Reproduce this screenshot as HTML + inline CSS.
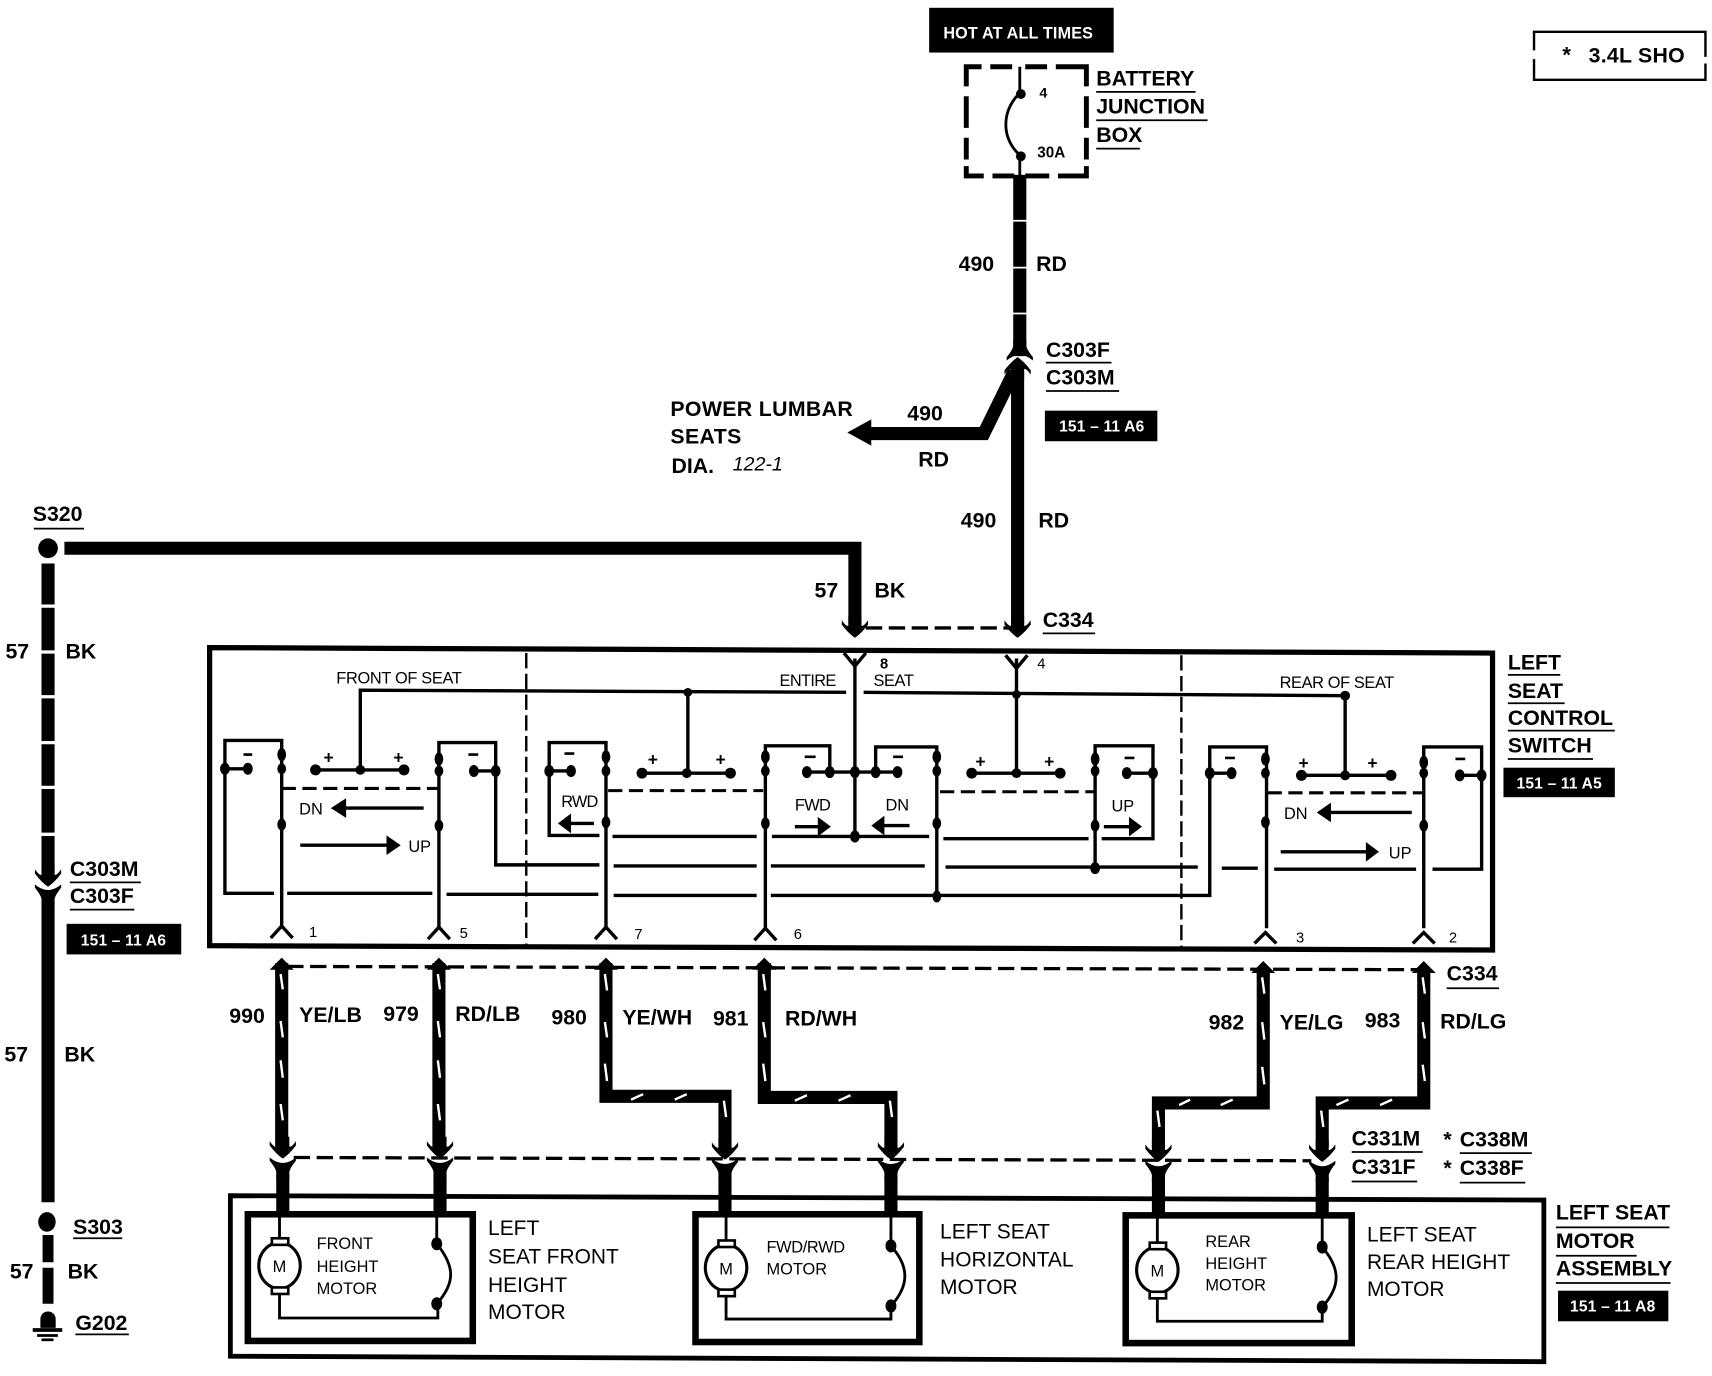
<!DOCTYPE html>
<html><head><meta charset="utf-8"><style>
html,body{margin:0;padding:0;background:#fff}
svg{display:block}
text{font-family:"Liberation Sans",sans-serif;fill:#000}
.b{font-weight:bold;font-size:19.5px}
.r{font-size:19.2px}
.s{font-size:15px}
.w{fill:#fff;font-size:14.2px;font-weight:bold;text-anchor:middle}
.u{stroke:#000;stroke-width:1.6;fill:none}
.t{stroke:#000;stroke-width:2.6;fill:none}
.d{stroke:#000;stroke-width:3;fill:none;stroke-dasharray:15 6}
.wire{stroke:#000;stroke-width:12;fill:none;stroke-linejoin:miter}
.st{stroke:#fff;stroke-width:2.2;fill:none}
.a{stroke:#000;stroke-width:3.1;fill:none}
</style></head><body>
<svg xmlns="http://www.w3.org/2000/svg" width="1712" height="1376" viewBox="-1 0 1568 1260">
<defs>
<path id="m" d="M-12,-10 Q-8,-4 -6,-5 V-14 H6 V-5 Q8,-4 12,-10 L12,-6 Q6,2 0,6 Q-6,2 -12,-6 Z"/>
<path id="f" d="M-12,-1 Q0,9 12,-1 L12,2 Q7,8 6,12 V18 H-6 V12 Q-7,8 -12,2 Z"/>
<path id="ua" d="M0,-8 L11,3 H5.8 V10 H-5.8 V3 H-11 Z"/>
</defs>
<rect x="-1" width="1568" height="1260" fill="#fff"/>

<!-- top -->
<rect x="850" y="7" width="169" height="41"/>
<text x="863" y="35" style="fill:#fff;font-size:14.8px;font-weight:bold" textLength="137">HOT AT ALL TIMES</text>
<path d="M884,79V61H898M906,61H926M938,61H958M966,61H994V79M884,88V117M994,88V117M884,126V146M994,126V146M884,152V161H900M908,161H928M938,161H960M968,161H994V152" fill="none" stroke="#000" stroke-width="4.5"/>
<path class="t" d="M933,61V85M933,85C916,102 916,126 933,142V165"/>
<circle cx="934" cy="86" r="4.5"/><circle cx="934" cy="143" r="4.5"/>
<text x="951" y="89" style="font-size:13px;font-weight:bold">4</text>
<text x="949" y="144" style="font-size:14px;font-weight:bold">30A</text>
<text class="b" x="1003" y="78">BATTERY</text><path class="u" d="M1003,84H1094"/>
<text class="b" x="1003" y="104">JUNCTION</text><path class="u" d="M1003,110H1105"/>
<text class="b" x="1003" y="130">BOX</text><path class="u" d="M1003,136H1043"/>

<path class="wire" d="M933,160V326"/>
<path d="M925,202H941M925,245H941M925,287H941" stroke="#fff" stroke-width="1.6"/>
<use href="#f" transform="translate(933,329) rotate(180)"/>
<text class="b" x="877" y="248">490</text><text class="b" x="948" y="248">RD</text>
<use href="#m" transform="translate(931,333) rotate(180)"/>
<text class="b" x="957" y="327">C303F</text><path class="u" d="M957,332H1017"/>
<text class="b" x="957" y="352">C303M</text><path class="u" d="M957,358H1024"/>
<rect x="956" y="376" width="103" height="28"/>
<text class="w" x="1008" y="395" textLength="78">151 – 11 A6</text>
<path class="wire" d="M931,340V572"/>
<path class="wire" d="M928,340L900,397H790"/>
<path d="M775,396L797,384V408Z"/>
<text class="b" x="613" y="381" textLength="167">POWER LUMBAR</text>
<text class="b" x="613" y="406" textLength="65">SEATS</text>
<text class="b" x="614" y="433">DIA.</text>
<text x="670" y="431" style="font-size:18px;font-style:italic">122-1</text>
<text class="b" x="830" y="385">490</text><text class="b" x="840" y="427">RD</text>
<text class="b" x="879" y="483">490</text><text class="b" x="950" y="483">RD</text>

<!-- top right -->
<path d="M1404,46V29H1561V52M1561,58V73H1404V54" fill="none" stroke="#000" stroke-width="2.2"/>
<text x="1430" y="57" style="font-size:20px;font-weight:bold">*</text>
<text x="1454" y="57" style="font-size:19.5px;font-weight:bold" textLength="88">3.4L SHO</text>

<!-- S320 -->
<circle cx="43" cy="502" r="9"/>
<text class="b" x="29" y="477">S320</text><path class="u" d="M30,484H76"/>
<path class="wire" d="M58,502H782V572"/>
<use href="#m" transform="translate(782,578)"/>
<use href="#m" transform="translate(931,578)"/>
<path class="d" d="M792,575H925"/>
<text class="b" x="745" y="547">57</text><text class="b" x="800" y="547">BK</text>
<text class="b" x="954" y="574">C334</text><path class="u" d="M954,580H1002"/>

<!-- left wire -->
<path class="wire" d="M43,516V800"/>
<path d="M35,555H51M35,597H51M35,638H51M35,680H51M35,721H51M35,764H51" stroke="#fff" stroke-width="3"/>
<use href="#m" transform="translate(43,806)"/>
<use href="#f" transform="translate(43,811)"/>
<path class="wire" d="M43,825V1101"/>
<text class="b" x="4" y="603">57</text><text class="b" x="59" y="603">BK</text>
<text class="b" x="63" y="802">C303M</text><path class="u" d="M63,808H128"/>
<text class="b" x="63" y="827">C303F</text><path class="u" d="M63,833H122"/>
<rect x="60" y="846" width="105" height="28"/>
<text class="w" x="112" y="866" textLength="78">151 – 11 A6</text>
<text class="b" x="3" y="972">57</text><text class="b" x="58" y="972">BK</text>
<ellipse cx="42" cy="1119" rx="8" ry="9"/>
<text class="b" x="66" y="1130">S303</text><path class="u" d="M66,1134H111"/>
<path class="wire" d="M43,1131V1156M43,1161V1194" style="stroke-width:10"/>
<text class="b" x="8" y="1171">57</text><text class="b" x="61" y="1171">BK</text>
<path d="M36,1216V1208A7,7 0 0 1 50,1208V1216Z"/>
<path d="M29,1218H56" stroke="#000" stroke-width="3.5"/>
<path d="M33,1223H52" stroke="#000" stroke-width="2.5"/>
<path d="M37,1227H48" stroke="#000" stroke-width="2.5"/>
<text class="b" x="68" y="1218">G202</text><path class="u" d="M68,1222H117"/>

<!-- switch box -->
<path d="M191,593L1366,598V870L191,866Z" fill="none" stroke="#000" stroke-width="4.8"/>
<path d="M481,598V866M1081,600V868" fill="none" stroke="#000" stroke-width="2.2" stroke-dasharray="14 5"/>
<text class="s" x="307" y="626" textLength="115">FRONT OF SEAT</text>
<text class="s" x="713" y="628" textLength="52">ENTIRE</text>
<text class="s" x="799" y="628" textLength="37">SEAT</text>
<text class="s" x="1171" y="630" textLength="105">REAR OF SEAT</text>

<!-- supply bus -->
<path class="a" d="M329,705V632L774,634M790,634L930,635L1231,637V710"/>
<path class="a" d="M629,634V707M930,603V708M782,603V766"/>
<path class="a" d="M772,598L782,610L792,598M920,600L930,612L940,600"/>
<circle cx="629" cy="634" r="4"/><circle cx="930" cy="636" r="4"/><circle cx="1231" cy="637" r="4.5"/>
<text x="805" y="612" style="font-size:13.5px;font-weight:bold">8</text>
<text x="949" y="612" style="font-size:13.5px">4</text>

<!-- contacts -->
<g fill="#000">
<path class="a" d="M288,705H369M586,708H668M889,708H970M1191,710H1273"/>
<circle cx="288" cy="705" r="5"/><circle cx="329" cy="705" r="4.5"/><circle cx="369" cy="705" r="5"/>
<circle cx="587" cy="708" r="5"/><circle cx="628" cy="708" r="4.5"/><circle cx="668" cy="708" r="5"/>
<circle cx="889" cy="708" r="5"/><circle cx="930" cy="708" r="4.5"/><circle cx="970" cy="708" r="5"/>
<circle cx="1191" cy="710" r="5"/><circle cx="1231" cy="710" r="4.5"/><circle cx="1273" cy="710" r="5"/>
</g>
<text x="300" y="699" text-anchor="middle" style="font-size:16px;font-weight:bold">+</text><text x="364" y="699" text-anchor="middle" style="font-size:16px;font-weight:bold">+</text>
<text x="597" y="701" text-anchor="middle" style="font-size:16px;font-weight:bold">+</text><text x="659" y="701" text-anchor="middle" style="font-size:16px;font-weight:bold">+</text>
<text x="897" y="703" text-anchor="middle" style="font-size:16px;font-weight:bold">+</text><text x="960" y="703" text-anchor="middle" style="font-size:16px;font-weight:bold">+</text>
<text x="1193" y="704" text-anchor="middle" style="font-size:16px;font-weight:bold">+</text><text x="1256" y="704" text-anchor="middle" style="font-size:16px;font-weight:bold">+</text>
<path d="M222,691H230M428,691H437M516,690H525M736,693H746M817,693H826M1029,694H1038M1121,694H1130M1332,695H1341" stroke="#000" stroke-width="2.4"/>

<!-- pin boxes and lines -->
<path class="a" d="M205,704V678H257V850M205,704V818H250M262,818H395M408,819H547M561,820H692M705,820H1107V684H1159V850"/>
<path class="a" d="M401,850V680H453V792H548M561,793H692M705,793H846M865,794H1096M1118,795H1151M1166,796H1296M1311,796H1356V684H1303V850"/>
<path class="a" d="M554,850V680H502V765H548M560,766H692M706,766H850M863,768H996M1008,768H1055V683H1002V795"/>
<path class="a" d="M700,850V683H759V707M736,707H821M801,707V684H857V821"/>
<path class="a" d="M205,704H226M433,706H453M502,706H522M1031,708H1055M1107,708H1127M1336,710H1356"/>
<g>
<ellipse cx="205" cy="704" rx="4.5" ry="5.5"/><ellipse cx="226" cy="704" rx="4.5" ry="5.5"/>
<ellipse cx="257" cy="691" rx="4" ry="6"/><ellipse cx="257" cy="704" rx="4" ry="5"/><ellipse cx="257" cy="755" rx="4" ry="5.5"/>
<ellipse cx="401" cy="695" rx="4" ry="6"/><ellipse cx="401" cy="706" rx="4" ry="5"/><ellipse cx="401" cy="756" rx="4" ry="5.5"/>
<ellipse cx="433" cy="706" rx="4.5" ry="5.5"/><ellipse cx="453" cy="706" rx="4.5" ry="5.5"/>
<ellipse cx="502" cy="706" rx="4.5" ry="5.5"/><ellipse cx="522" cy="706" rx="4.5" ry="5.5"/>
<ellipse cx="554" cy="693" rx="4" ry="6"/><ellipse cx="554" cy="706" rx="4" ry="5"/><ellipse cx="554" cy="753" rx="4" ry="5.5"/>
<ellipse cx="700" cy="693" rx="4" ry="6"/><ellipse cx="700" cy="706" rx="4" ry="5"/><ellipse cx="700" cy="754" rx="4" ry="5.5"/>
<ellipse cx="738" cy="707" rx="4.5" ry="5.5"/><ellipse cx="759" cy="707" rx="4.5" ry="5.5"/><ellipse cx="782" cy="707" rx="4.5" ry="5.5"/><ellipse cx="782" cy="766" rx="4.5" ry="5.5"/>
<ellipse cx="801" cy="707" rx="4.5" ry="5.5"/><ellipse cx="821" cy="707" rx="4.5" ry="5.5"/>
<ellipse cx="857" cy="693" rx="4" ry="6"/><ellipse cx="857" cy="706" rx="4" ry="5"/><ellipse cx="857" cy="754" rx="4" ry="5.5"/><ellipse cx="857" cy="821" rx="4" ry="5.5"/>
<ellipse cx="1002" cy="695" rx="4" ry="6"/><ellipse cx="1002" cy="706" rx="4" ry="5"/><ellipse cx="1002" cy="756" rx="4" ry="5.5"/><ellipse cx="1002" cy="795" rx="4.5" ry="5.5"/>
<ellipse cx="1031" cy="708" rx="4.5" ry="5.5"/><ellipse cx="1055" cy="708" rx="4.5" ry="5.5"/>
<ellipse cx="1107" cy="708" rx="4.5" ry="5.5"/><ellipse cx="1127" cy="708" rx="4.5" ry="5.5"/>
<ellipse cx="1158" cy="695" rx="4" ry="6"/><ellipse cx="1158" cy="708" rx="4" ry="5"/><ellipse cx="1158" cy="753" rx="4" ry="5.5"/>
<ellipse cx="1303" cy="698" rx="4" ry="6"/><ellipse cx="1303" cy="708" rx="4" ry="5"/><ellipse cx="1303" cy="756" rx="4" ry="5.5"/>
<ellipse cx="1336" cy="710" rx="4.5" ry="5.5"/><ellipse cx="1356" cy="710" rx="4.5" ry="5.5"/>
</g>
<path d="M257,722H401M556,724H698M860,725H1002M1160,726H1303" fill="none" stroke="#000" stroke-width="2.8" stroke-dasharray="13 6"/>

<!-- pin chevrons -->
<path class="a" d="M247,859L257,848L267,859M391,860L401,849L411,860M544,860L554,849L564,860M690,861L700,850L710,861M1148,864L1158,854L1168,864M1293,864L1303,854L1313,864"/>
<text x="282" y="858" style="font-size:13.5px">1</text>
<text x="420" y="859" style="font-size:13.5px">5</text>
<text x="580" y="860" style="font-size:13.5px">7</text>
<text x="726" y="860" style="font-size:13.5px">6</text>
<text x="1186" y="863" style="font-size:13.5px">3</text>
<text x="1326" y="863" style="font-size:13.5px">2</text>

<!-- switch arrows -->
<path class="a" d="M387,740H310M274,774H356M543,754H518M727,757H750M832,756H806M1010,757H1036M1292,744H1214M1172,780H1252" stroke-width="3.4"/>
<path d="M302,740L316,731V749ZM366,774L353,765V783ZM510,754L522,745V763ZM760,757L748,748V766ZM797,756L809,747V765ZM1045,757L1033,748V766ZM1205,744L1218,735V753ZM1262,780L1250,771V789Z"/>
<text class="s" x="273" y="746">DN</text><text class="s" x="373" y="780">UP</text>
<text class="s" x="513" y="739" textLength="34">RWD</text><text class="s" x="727" y="742" textLength="33">FWD</text>
<text class="s" x="810" y="742">DN</text><text class="s" x="1017" y="743">UP</text>
<text class="s" x="1175" y="750">DN</text><text class="s" x="1271" y="786">UP</text>

<text class="b" x="1380" y="613">LEFT</text><path class="u" d="M1380,618H1428"/>
<text class="b" x="1380" y="639">SEAT</text><path class="u" d="M1380,644H1432"/>
<text class="b" x="1380" y="664">CONTROL</text><path class="u" d="M1380,669H1478"/>
<text class="b" x="1380" y="689">SWITCH</text><path class="u" d="M1380,695H1458"/>
<rect x="1376" y="703" width="102" height="27"/>
<text class="w" x="1427" y="722" textLength="78">151 – 11 A5</text>

<!-- C334 lower -->
<path class="d" d="M262,885L1300,888"/>
<text class="b" x="1324" y="898">C334</text><path class="u" d="M1324,905H1372"/>

<!-- harness wires -->
<path class="wire" d="M257,882V1050M401,882V1050M554,882V1004H663V1050M699,882V1005H815V1050M1156,888V1010H1060V1050M1303,888V1010H1210V1050"/>
<use href="#ua" transform="translate(257,885)"/><use href="#ua" transform="translate(401,885)"/><use href="#ua" transform="translate(554,885)"/><use href="#ua" transform="translate(699,885)"/><use href="#ua" transform="translate(1156,888)"/><use href="#ua" transform="translate(1303,888)"/>
<path class="st" d="M256,892l2,14M256,935l2,15M256,971l2,16M256,1011l2,15M400,892l2,14M400,935l2,15M400,971l2,16M400,1011l2,15M553,892l2,15M553,936l2,14M553,974l2,16M698,892l2,15M698,936l2,14M698,974l2,16M662,1008l2,15M814,1008l2,15M1155,895l2,15M1155,936l2,16M1155,977l2,16M1302,895l2,15M1302,936l2,15M1302,975l2,15M1059,1017l2,15M1209,1017l2,15"/>
<path class="st" d="M577,1007l11,-5M617,1007l11,-5M727,1008l11,-5M767,1008l11,-5M1079,1012l10,-5M1117,1012l11,-5M1223,1012l11,-5M1263,1012l11,-5"/>
<path class="d" d="M268,1060L1200,1063"/>
<use href="#m" transform="translate(258,1055)"/><use href="#f" transform="translate(258,1061)"/>
<use href="#m" transform="translate(402,1055)"/><use href="#f" transform="translate(402,1061)"/>
<use href="#m" transform="translate(663,1056)"/><use href="#f" transform="translate(663,1062)"/>
<use href="#m" transform="translate(815,1056)"/><use href="#f" transform="translate(815,1062)"/>
<use href="#m" transform="translate(1060,1058)"/><use href="#f" transform="translate(1060,1064)"/>
<use href="#m" transform="translate(1210,1058)"/><use href="#f" transform="translate(1210,1064)"/>
<path class="wire" d="M258,1076V1114M402,1076V1114M663,1077V1114M815,1077V1114M1060,1078V1114M1210,1078V1114"/>
<text class="b" x="209" y="937">990</text><text class="b" x="273" y="936">YE/LB</text>
<text class="b" x="350" y="935">979</text><text class="b" x="416" y="935">RD/LB</text>
<text class="b" x="504" y="938">980</text><text class="b" x="569" y="938">YE/WH</text>
<text class="b" x="652" y="939">981</text><text class="b" x="718" y="939">RD/WH</text>
<text class="b" x="1106" y="943">982</text><text class="b" x="1171" y="943">YE/LG</text>
<text class="b" x="1249" y="941">983</text><text class="b" x="1318" y="942">RD/LG</text>
<text class="b" x="1237" y="1049">C331M</text><path class="u" d="M1237,1055H1302"/>
<text class="b" x="1237" y="1075">C331F</text><path class="u" d="M1237,1082H1297"/>
<text class="b" x="1321" y="1050">*</text><text class="b" x="1336" y="1050">C338M</text><path class="u" d="M1336,1056H1402"/>
<text class="b" x="1321" y="1076">*</text><text class="b" x="1336" y="1076">C338F</text><path class="u" d="M1336,1083H1396"/>

<!-- assembly -->
<path d="M210,1095L1413,1099V1247L210,1242Z" fill="none" stroke="#000" stroke-width="4.4"/>
<rect x="226" y="1112" width="206" height="116" fill="none" stroke="#000" stroke-width="6"/>
<rect x="636" y="1112" width="205" height="117" fill="none" stroke="#000" stroke-width="6"/>
<rect x="1030" y="1113" width="207" height="117" fill="none" stroke="#000" stroke-width="6"/>

<!-- motors -->
<path class="t" d="M255,1112V1134M255,1184V1207H400V1194M399,1112V1139C416,1160 416,1175 399,1194"/>
<ellipse cx="255" cy="1159" rx="19" ry="21" fill="#fff" stroke="#000" stroke-width="2.8"/>
<rect x="248" y="1134" width="15" height="6" fill="#fff" stroke="#000" stroke-width="2.4"/>
<rect x="248" y="1179" width="15" height="6" fill="#fff" stroke="#000" stroke-width="2.4"/>
<text x="255" y="1165" text-anchor="middle" style="font-size:15px">M</text>
<ellipse cx="399" cy="1139" rx="5" ry="6"/><ellipse cx="399" cy="1194" rx="5" ry="6"/>

<path class="t" d="M664,1112V1135M664,1186V1208H815V1196M815,1112V1141C832,1160 832,1177 815,1196"/>
<ellipse cx="664" cy="1161" rx="19" ry="21" fill="#fff" stroke="#000" stroke-width="2.8"/>
<rect x="657" y="1136" width="15" height="6" fill="#fff" stroke="#000" stroke-width="2.4"/>
<rect x="657" y="1181" width="15" height="6" fill="#fff" stroke="#000" stroke-width="2.4"/>
<text x="664" y="1167" text-anchor="middle" style="font-size:15px">M</text>
<ellipse cx="815" cy="1141" rx="5" ry="6"/><ellipse cx="815" cy="1196" rx="5" ry="6"/>

<path class="t" d="M1059,1113V1137M1059,1188V1210H1210V1197M1210,1113V1142C1227,1162 1227,1178 1210,1197"/>
<ellipse cx="1059" cy="1163" rx="19" ry="21" fill="#fff" stroke="#000" stroke-width="2.8"/>
<rect x="1052" y="1138" width="15" height="6" fill="#fff" stroke="#000" stroke-width="2.4"/>
<rect x="1052" y="1183" width="15" height="6" fill="#fff" stroke="#000" stroke-width="2.4"/>
<text x="1059" y="1169" text-anchor="middle" style="font-size:15px">M</text>
<ellipse cx="1210" cy="1142" rx="5" ry="6"/><ellipse cx="1210" cy="1197" rx="5" ry="6"/>

<text class="s" x="289" y="1144">FRONT</text><text class="s" x="289" y="1165">HEIGHT</text><text class="s" x="289" y="1185">MOTOR</text>
<text class="s" x="701" y="1147" textLength="72">FWD/RWD</text><text class="s" x="701" y="1167">MOTOR</text>
<text class="s" x="1103" y="1142">REAR</text><text class="s" x="1103" y="1162">HEIGHT</text><text class="s" x="1103" y="1182">MOTOR</text>
<text class="r" x="446" y="1131">LEFT</text><text class="r" x="446" y="1157">SEAT FRONT</text><text class="r" x="446" y="1183">HEIGHT</text><text class="r" x="446" y="1208">MOTOR</text>
<text class="r" x="860" y="1134">LEFT SEAT</text><text class="r" x="860" y="1160">HORIZONTAL</text><text class="r" x="860" y="1185">MOTOR</text>
<text class="r" x="1251" y="1137">LEFT SEAT</text><text class="r" x="1251" y="1162">REAR HEIGHT</text><text class="r" x="1251" y="1187">MOTOR</text>
<text class="b" x="1424" y="1117">LEFT SEAT</text><path class="u" d="M1424,1124H1528"/>
<text class="b" x="1424" y="1143">MOTOR</text><path class="u" d="M1424,1150H1498"/>
<text class="b" x="1424" y="1168">ASSEMBLY</text><path class="u" d="M1424,1175H1529"/>
<rect x="1426" y="1182" width="101" height="28"/>
<text class="w" x="1476" y="1201" textLength="78">151 – 11 A8</text>
</svg>
</body></html>
